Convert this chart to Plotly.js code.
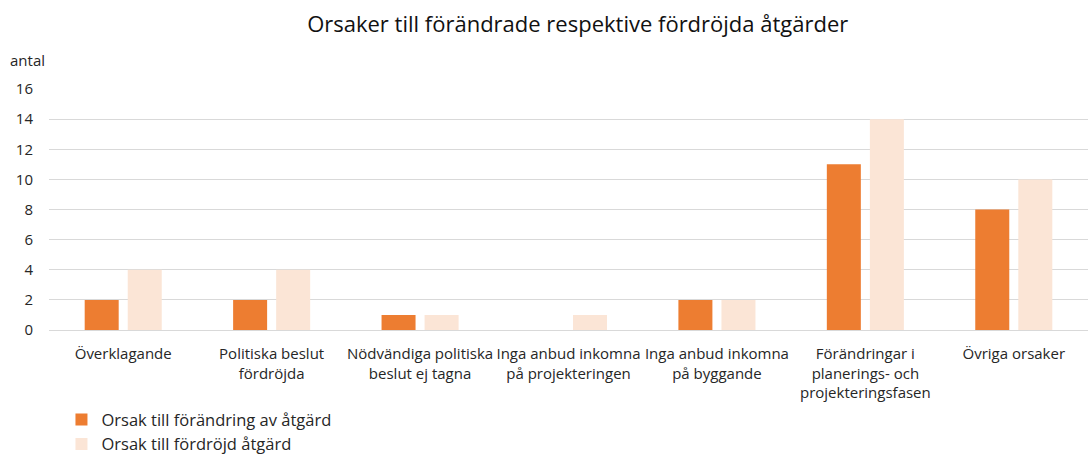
<!DOCTYPE html>
<html><head><meta charset="utf-8">
<script src="https://cdn.plot.ly/plotly-3.0.1.min.js"></script>
<style>html,body{margin:0;padding:0;background:#fff}#chart{width:1088px;height:457px}</style>
</head><body><div id="chart"></div>
<script>
const categories = ["Överklagande","Politiska beslut<br>fördröjda","Nödvändiga politiska<br>beslut ej tagna","Inga anbud inkomna<br>på projekteringen","Inga anbud inkomna<br>på byggande","Förändringar i<br>planerings- och<br>projekteringsfasen","Övriga orsaker"];
const seriesNames = ["Orsak till förändring av åtgärd","Orsak till fördröjd åtgärd"];
const forandring = [2,2,1,0,2,11,8];
const fordrojd = [4,4,1,1,2,14,10];
const yTicks = [0,2,4,6,8,10,12,14,16];

const font = "'Open Sans', sans-serif";
const data = [
  {type:'bar', x:categories, y:forandring, name:seriesNames[0], marker:{color:'#ED7D31'}},
  {type:'bar', x:categories, y:fordrojd, name:seriesNames[1], marker:{color:'#FBE5D6'}}
];
const layout = {
  width:1088, height:457,
  margin:{l:49, r:0, t:89, b:127, autoexpand:false},
  paper_bgcolor:'#fff', plot_bgcolor:'#fff',
  font:{family:font, size:15, color:'#262626'},
  title:{text:"Orsaker till förändrade respektive fördröjda åtgärder", x:0.531, xanchor:'center', y:0.946, yanchor:'middle', font:{size:22, color:'#111111', family:font}},
  barmode:'group', bargap:0.42, bargroupgap:0.21,
  xaxis:{type:'category', tickfont:{size:15, color:'#262626'}, showgrid:false, zeroline:false, showline:false, ticks:'outside', ticklen:10, tickcolor:'rgba(0,0,0,0)'},
  yaxis:{range:[0,16], tickvals:yTicks, tickfont:{size:15, color:'#262626'}, gridcolor:'#D9D9D9', gridwidth:1, zeroline:true, zerolinecolor:'#D9D9D9', showline:false, ticks:'outside', ticklen:12, tickcolor:'rgba(0,0,0,0)'},
  showlegend:true,
  legend:{orientation:'v', x:0.012, xanchor:'left', y:-0.30, yanchor:'top', font:{size:16.5, color:'#262626'}, itemwidth:30, tracegroupgap:0, bgcolor:'rgba(0,0,0,0)'},
  annotations:[{text:'antal', xref:'paper', yref:'paper', x:-0.039, xanchor:'left', y:1.12, yanchor:'middle', showarrow:false, font:{size:15, color:'#262626'}}]
};
Plotly.newPlot('chart', data, layout, {displayModeBar:false});
</script></body></html>
